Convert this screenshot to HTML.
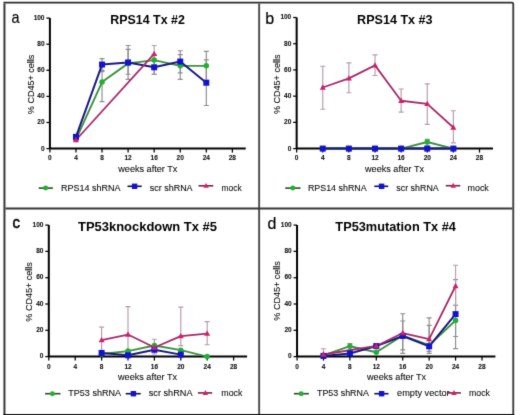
<!DOCTYPE html>
<html><head><meta charset="utf-8"><style>
html,body{margin:0;padding:0;background:#fff;}
svg{display:block;}
#wrap{width:520px;height:415px;}
text{font-family:"Liberation Sans", sans-serif;fill:#000;}
.tk{font-size:6.5px;font-weight:bold;fill:#111;stroke:#111;stroke-width:0.1px;}
.ttl{font-size:12.5px;font-weight:bold;fill:#000;}
.let{font-size:16px;fill:#000;stroke:#000;stroke-width:0.15px;}
.lab{font-size:9px;fill:#0a0a0a;stroke:#0a0a0a;stroke-width:0.08px;}
</style></head><body>
<div id="wrap"><svg width="520" height="415" viewBox="0 0 520 415">
<defs><filter id="bl" x="0" y="0" width="520" height="415" filterUnits="userSpaceOnUse" color-interpolation-filters="sRGB"><feConvolveMatrix order="3" kernelMatrix="0.0113 0.0838 0.0113 0.0838 0.6193 0.0838 0.0113 0.0838 0.0113" divisor="1" edgeMode="duplicate" preserveAlpha="false"/></filter></defs>
<rect width="520" height="415" fill="#fff"/>
<g filter="url(#bl)">
<path d="M3.45,2.55 H511.8 Q513.25,2.55 513.25,4" fill="none" stroke="#2d2d2d" stroke-width="1.7"/>
<line x1="4.45" y1="3.4" x2="4.45" y2="416" stroke="#373737" stroke-width="2"/>
<line x1="513.25" y1="4" x2="513.25" y2="416" stroke="#414141" stroke-width="1.9"/>
<line x1="3.5" y1="414.7" x2="514.2" y2="414.7" stroke="#111" stroke-width="1.6"/>
<line x1="259.15" y1="3.4" x2="259.15" y2="413.9" stroke="#4b4b4b" stroke-width="1.9"/>
<line x1="5.45" y1="208.5" x2="512.3" y2="208.5" stroke="#373737" stroke-width="2.2"/>
<g>
<path d="M49.90,18.10 V148.60 M49.90,148.60 H245.70" stroke="#000" stroke-width="2" fill="none"/>
<line x1="46.40" y1="148.60" x2="49.90" y2="148.60" stroke="#000" stroke-width="1.25"/>
<text x="44.50" y="150.50" text-anchor="end" class="tk">0</text>
<line x1="46.40" y1="122.50" x2="49.90" y2="122.50" stroke="#000" stroke-width="1.25"/>
<text x="44.50" y="124.40" text-anchor="end" class="tk">20</text>
<line x1="46.40" y1="96.40" x2="49.90" y2="96.40" stroke="#000" stroke-width="1.25"/>
<text x="44.50" y="98.30" text-anchor="end" class="tk">40</text>
<line x1="46.40" y1="70.30" x2="49.90" y2="70.30" stroke="#000" stroke-width="1.25"/>
<text x="44.50" y="72.20" text-anchor="end" class="tk">60</text>
<line x1="46.40" y1="44.20" x2="49.90" y2="44.20" stroke="#000" stroke-width="1.25"/>
<text x="44.50" y="46.10" text-anchor="end" class="tk">80</text>
<line x1="46.40" y1="18.10" x2="49.90" y2="18.10" stroke="#000" stroke-width="1.25"/>
<text x="44.50" y="20.00" text-anchor="end" class="tk">100</text>
<line x1="49.90" y1="148.60" x2="49.90" y2="152.60" stroke="#000" stroke-width="1.25"/>
<text x="49.90" y="159.60" text-anchor="middle" class="tk">0</text>
<line x1="75.97" y1="148.60" x2="75.97" y2="152.60" stroke="#000" stroke-width="1.25"/>
<text x="75.97" y="159.60" text-anchor="middle" class="tk">4</text>
<line x1="102.04" y1="148.60" x2="102.04" y2="152.60" stroke="#000" stroke-width="1.25"/>
<text x="102.04" y="159.60" text-anchor="middle" class="tk">8</text>
<line x1="128.10" y1="148.60" x2="128.10" y2="152.60" stroke="#000" stroke-width="1.25"/>
<text x="128.10" y="159.60" text-anchor="middle" class="tk">12</text>
<line x1="154.17" y1="148.60" x2="154.17" y2="152.60" stroke="#000" stroke-width="1.25"/>
<text x="154.17" y="159.60" text-anchor="middle" class="tk">16</text>
<line x1="180.24" y1="148.60" x2="180.24" y2="152.60" stroke="#000" stroke-width="1.25"/>
<text x="180.24" y="159.60" text-anchor="middle" class="tk">20</text>
<line x1="206.31" y1="148.60" x2="206.31" y2="152.60" stroke="#000" stroke-width="1.25"/>
<text x="206.31" y="159.60" text-anchor="middle" class="tk">24</text>
<line x1="232.38" y1="148.60" x2="232.38" y2="152.60" stroke="#000" stroke-width="1.25"/>
<text x="232.38" y="159.60" text-anchor="middle" class="tk">28</text>
<path d="M102.04,101.62 V71.61 M99.54,101.62 H104.54 M99.54,71.61 H104.54" stroke="#8e8e8e" stroke-width="1.15" fill="none"/>
<path d="M102.04,70.30 V58.55 M99.54,70.30 H104.54 M99.54,58.55 H104.54" stroke="#8e8e8e" stroke-width="1.15" fill="none"/>
<path d="M128.10,79.44 V45.50 M125.60,79.44 H130.60 M125.60,45.50 H130.60" stroke="#8e8e8e" stroke-width="1.15" fill="none"/>
<path d="M128.10,74.22 V49.42 M125.60,74.22 H130.60 M125.60,49.42 H130.60" stroke="#8e8e8e" stroke-width="1.15" fill="none"/>
<path d="M154.17,74.22 V45.50 M151.67,74.22 H156.67 M151.67,45.50 H156.67" stroke="#b49cac" stroke-width="1.15" fill="none"/>
<path d="M154.17,74.22 V54.64 M151.67,74.22 H156.67 M151.67,54.64 H156.67" stroke="#8e8e8e" stroke-width="1.15" fill="none"/>
<path d="M180.24,79.44 V50.72 M177.74,79.44 H182.74 M177.74,50.72 H182.74" stroke="#8e8e8e" stroke-width="1.15" fill="none"/>
<path d="M180.24,72.91 V54.64 M177.74,72.91 H182.74 M177.74,54.64 H182.74" stroke="#8e8e8e" stroke-width="1.15" fill="none"/>
<path d="M206.31,105.53 V51.38 M203.81,105.53 H208.81 M203.81,51.38 H208.81" stroke="#8e8e8e" stroke-width="1.15" fill="none"/>
<path d="M206.31,80.74 V59.86 M203.81,80.74 H208.81 M203.81,59.86 H208.81" stroke="#8e8e8e" stroke-width="1.15" fill="none"/>
<path d="M75.97,139.47 L102.04,82.05 L128.10,63.38 L154.17,60.12 L180.24,65.86 L206.31,65.86" stroke="#3c923e" stroke-width="1.9" fill="none" stroke-linejoin="round"/>
<path d="M75.97,136.85 L102.04,64.56 L128.10,62.47 L154.17,67.30 L180.24,61.56 L206.31,82.70" stroke="#1a1a80" stroke-width="2.0" fill="none" stroke-linejoin="round"/>
<path d="M75.97,139.99 L154.17,53.86" stroke="#a82a6a" stroke-width="1.8" fill="none" stroke-linejoin="round"/>
<circle cx="75.97" cy="139.47" r="2.75" fill="#20b030"/>
<circle cx="102.04" cy="82.05" r="2.75" fill="#20b030"/>
<circle cx="128.10" cy="63.38" r="2.75" fill="#20b030"/>
<circle cx="154.17" cy="60.12" r="2.75" fill="#20b030"/>
<circle cx="180.24" cy="65.86" r="2.75" fill="#20b030"/>
<circle cx="206.31" cy="65.86" r="2.75" fill="#20b030"/>
<rect x="72.97" y="133.85" width="6.00" height="6.00" fill="#1212d0"/>
<rect x="99.04" y="61.56" width="6.00" height="6.00" fill="#1212d0"/>
<rect x="125.10" y="59.47" width="6.00" height="6.00" fill="#1212d0"/>
<rect x="151.17" y="64.30" width="6.00" height="6.00" fill="#1212d0"/>
<rect x="177.24" y="58.56" width="6.00" height="6.00" fill="#1212d0"/>
<rect x="203.31" y="79.70" width="6.00" height="6.00" fill="#1212d0"/>
<path d="M75.97,136.79 L78.97,142.19 L72.97,142.19Z" fill="#d0206a"/>
<path d="M154.17,50.66 L157.17,56.06 L151.17,56.06Z" fill="#d0206a"/>
<text x="147.60" y="24.00" text-anchor="middle" class="ttl" textLength="74.5" lengthAdjust="spacingAndGlyphs">RPS14 Tx #2</text>
<text transform="translate(11.6,23.1) scale(0.9,1)" class="let" font-size="16.2">a</text>
<text transform="translate(33.50,84.40) rotate(-90)" text-anchor="middle" class="lab" textLength="59.5" lengthAdjust="spacingAndGlyphs">% CD45+ cells</text>
<text x="147.80" y="172.30" text-anchor="middle" class="lab" textLength="59" lengthAdjust="spacingAndGlyphs">weeks after Tx</text>
<line x1="38.70" y1="188.10" x2="52.90" y2="188.10" stroke="#2a4a2a" stroke-width="1.6"/>
<circle cx="45.70" cy="188.10" r="2.48" fill="#20b030"/>
<text x="61.00" y="190.60" class="lab" textLength="59.6" lengthAdjust="spacingAndGlyphs">RPS14 shRNA</text>
<line x1="127.50" y1="186.30" x2="141.70" y2="186.30" stroke="#101040" stroke-width="1.6"/>
<rect x="131.90" y="183.60" width="5.40" height="5.40" fill="#1212d0"/>
<text x="149.80" y="190.60" class="lab" textLength="42.8" lengthAdjust="spacingAndGlyphs">scr shRNA</text>
<line x1="198.50" y1="185.80" x2="213.30" y2="185.80" stroke="#802048" stroke-width="1.6"/>
<path d="M206.00,182.92 L208.70,187.78 L203.30,187.78Z" fill="#d0206a"/>
<text x="221.50" y="190.60" class="lab" textLength="20.1" lengthAdjust="spacingAndGlyphs">mock</text>
</g>
<g>
<path d="M296.65,17.50 V148.60 M296.65,148.60 H493.00" stroke="#000" stroke-width="2" fill="none"/>
<line x1="293.15" y1="148.60" x2="296.65" y2="148.60" stroke="#000" stroke-width="1.25"/>
<text x="291.25" y="150.50" text-anchor="end" class="tk">0</text>
<line x1="293.15" y1="122.38" x2="296.65" y2="122.38" stroke="#000" stroke-width="1.25"/>
<text x="291.25" y="124.28" text-anchor="end" class="tk">20</text>
<line x1="293.15" y1="96.16" x2="296.65" y2="96.16" stroke="#000" stroke-width="1.25"/>
<text x="291.25" y="98.06" text-anchor="end" class="tk">40</text>
<line x1="293.15" y1="69.94" x2="296.65" y2="69.94" stroke="#000" stroke-width="1.25"/>
<text x="291.25" y="71.84" text-anchor="end" class="tk">60</text>
<line x1="293.15" y1="43.72" x2="296.65" y2="43.72" stroke="#000" stroke-width="1.25"/>
<text x="291.25" y="45.62" text-anchor="end" class="tk">80</text>
<line x1="293.15" y1="17.50" x2="296.65" y2="17.50" stroke="#000" stroke-width="1.25"/>
<text x="291.25" y="19.40" text-anchor="end" class="tk">100</text>
<line x1="296.65" y1="148.60" x2="296.65" y2="152.60" stroke="#000" stroke-width="1.25"/>
<text x="296.65" y="159.60" text-anchor="middle" class="tk">0</text>
<line x1="322.77" y1="148.60" x2="322.77" y2="152.60" stroke="#000" stroke-width="1.25"/>
<text x="322.77" y="159.60" text-anchor="middle" class="tk">4</text>
<line x1="348.89" y1="148.60" x2="348.89" y2="152.60" stroke="#000" stroke-width="1.25"/>
<text x="348.89" y="159.60" text-anchor="middle" class="tk">8</text>
<line x1="375.01" y1="148.60" x2="375.01" y2="152.60" stroke="#000" stroke-width="1.25"/>
<text x="375.01" y="159.60" text-anchor="middle" class="tk">12</text>
<line x1="401.13" y1="148.60" x2="401.13" y2="152.60" stroke="#000" stroke-width="1.25"/>
<text x="401.13" y="159.60" text-anchor="middle" class="tk">16</text>
<line x1="427.25" y1="148.60" x2="427.25" y2="152.60" stroke="#000" stroke-width="1.25"/>
<text x="427.25" y="159.60" text-anchor="middle" class="tk">20</text>
<line x1="453.37" y1="148.60" x2="453.37" y2="152.60" stroke="#000" stroke-width="1.25"/>
<text x="453.37" y="159.60" text-anchor="middle" class="tk">24</text>
<line x1="479.49" y1="148.60" x2="479.49" y2="152.60" stroke="#000" stroke-width="1.25"/>
<text x="479.49" y="159.60" text-anchor="middle" class="tk">28</text>
<path d="M322.77,109.27 V66.27 M320.27,109.27 H325.27 M320.27,66.27 H325.27" stroke="#b49cac" stroke-width="1.15" fill="none"/>
<path d="M348.89,92.75 V62.86 M346.39,92.75 H351.39 M346.39,62.86 H351.39" stroke="#b49cac" stroke-width="1.15" fill="none"/>
<path d="M375.01,75.45 V54.86 M372.51,75.45 H377.51 M372.51,54.86 H377.51" stroke="#b49cac" stroke-width="1.15" fill="none"/>
<path d="M401.13,112.15 V88.95 M398.63,112.15 H403.63 M398.63,88.95 H403.63" stroke="#b49cac" stroke-width="1.15" fill="none"/>
<path d="M427.25,124.35 V83.84 M424.75,124.35 H429.75 M424.75,83.84 H429.75" stroke="#b49cac" stroke-width="1.15" fill="none"/>
<path d="M453.37,142.83 V110.71 M450.87,142.83 H455.87 M450.87,110.71 H455.87" stroke="#b49cac" stroke-width="1.15" fill="none"/>
<path d="M427.25,145.98 V139.42 M424.75,145.98 H429.75 M424.75,139.42 H429.75" stroke="#8e8e8e" stroke-width="1.15" fill="none"/>
<path d="M322.77,148.60 L348.89,148.60 L375.01,148.60 L401.13,148.60 L427.25,142.04 L453.37,148.60" stroke="#3c923e" stroke-width="1.9" fill="none" stroke-linejoin="round"/>
<path d="M322.77,148.60 L348.89,148.60 L375.01,148.60 L401.13,148.60 L427.25,148.60 L453.37,148.60" stroke="#1a1a80" stroke-width="2.0" fill="none" stroke-linejoin="round"/>
<path d="M322.77,87.51 L348.89,78.33 L375.01,65.35 L401.13,100.75 L427.25,103.89 L453.37,127.49" stroke="#a82a6a" stroke-width="1.8" fill="none" stroke-linejoin="round"/>
<circle cx="322.77" cy="148.60" r="2.75" fill="#20b030"/>
<circle cx="348.89" cy="148.60" r="2.75" fill="#20b030"/>
<circle cx="375.01" cy="148.60" r="2.75" fill="#20b030"/>
<circle cx="401.13" cy="148.60" r="2.75" fill="#20b030"/>
<circle cx="427.25" cy="142.04" r="2.75" fill="#20b030"/>
<circle cx="453.37" cy="148.60" r="2.75" fill="#20b030"/>
<rect x="319.77" y="145.60" width="6.00" height="6.00" fill="#1212d0"/>
<rect x="345.89" y="145.60" width="6.00" height="6.00" fill="#1212d0"/>
<rect x="372.01" y="145.60" width="6.00" height="6.00" fill="#1212d0"/>
<rect x="398.13" y="145.60" width="6.00" height="6.00" fill="#1212d0"/>
<rect x="424.25" y="145.60" width="6.00" height="6.00" fill="#1212d0"/>
<rect x="450.37" y="145.60" width="6.00" height="6.00" fill="#1212d0"/>
<path d="M322.77,84.31 L325.77,89.71 L319.77,89.71Z" fill="#d0206a"/>
<path d="M348.89,75.13 L351.89,80.53 L345.89,80.53Z" fill="#d0206a"/>
<path d="M375.01,62.15 L378.01,67.55 L372.01,67.55Z" fill="#d0206a"/>
<path d="M401.13,97.55 L404.13,102.95 L398.13,102.95Z" fill="#d0206a"/>
<path d="M427.25,100.69 L430.25,106.09 L424.25,106.09Z" fill="#d0206a"/>
<path d="M453.37,124.29 L456.37,129.69 L450.37,129.69Z" fill="#d0206a"/>
<text x="394.80" y="24.00" text-anchor="middle" class="ttl" textLength="75.5" lengthAdjust="spacingAndGlyphs">RPS14 Tx #3</text>
<text x="265.3" y="23.6" class="let" font-size="16.5">b</text>
<text transform="translate(280.20,84.30) rotate(-90)" text-anchor="middle" class="lab" textLength="59.5" lengthAdjust="spacingAndGlyphs">% CD45+ cells</text>
<text x="394.50" y="172.30" text-anchor="middle" class="lab" textLength="59" lengthAdjust="spacingAndGlyphs">weeks after Tx</text>
<line x1="285.30" y1="188.10" x2="300.50" y2="188.10" stroke="#2a4a2a" stroke-width="1.6"/>
<circle cx="292.80" cy="188.10" r="2.48" fill="#20b030"/>
<text x="307.90" y="190.60" class="lab" textLength="58.8" lengthAdjust="spacingAndGlyphs">RPS14 shRNA</text>
<line x1="374.30" y1="186.30" x2="388.20" y2="186.30" stroke="#101040" stroke-width="1.6"/>
<rect x="378.90" y="183.60" width="5.40" height="5.40" fill="#1212d0"/>
<text x="396.30" y="190.60" class="lab" textLength="42.5" lengthAdjust="spacingAndGlyphs">scr shRNA</text>
<line x1="445.70" y1="185.70" x2="460.30" y2="185.70" stroke="#802048" stroke-width="1.6"/>
<path d="M453.20,182.82 L455.90,187.68 L450.50,187.68Z" fill="#d0206a"/>
<text x="467.50" y="190.60" class="lab" textLength="21.3" lengthAdjust="spacingAndGlyphs">mock</text>
</g>
<g>
<path d="M48.80,225.10 V356.60 M48.80,356.60 H247.10" stroke="#000" stroke-width="2" fill="none"/>
<line x1="45.30" y1="356.60" x2="48.80" y2="356.60" stroke="#000" stroke-width="1.25"/>
<text x="43.40" y="358.20" text-anchor="end" class="tk">0</text>
<line x1="45.30" y1="330.30" x2="48.80" y2="330.30" stroke="#000" stroke-width="1.25"/>
<text x="43.40" y="331.90" text-anchor="end" class="tk">20</text>
<line x1="45.30" y1="304.00" x2="48.80" y2="304.00" stroke="#000" stroke-width="1.25"/>
<text x="43.40" y="305.60" text-anchor="end" class="tk">40</text>
<line x1="45.30" y1="277.70" x2="48.80" y2="277.70" stroke="#000" stroke-width="1.25"/>
<text x="43.40" y="279.30" text-anchor="end" class="tk">60</text>
<line x1="45.30" y1="251.40" x2="48.80" y2="251.40" stroke="#000" stroke-width="1.25"/>
<text x="43.40" y="253.00" text-anchor="end" class="tk">80</text>
<line x1="45.30" y1="225.10" x2="48.80" y2="225.10" stroke="#000" stroke-width="1.25"/>
<text x="43.40" y="226.70" text-anchor="end" class="tk">100</text>
<line x1="48.80" y1="356.60" x2="48.80" y2="360.60" stroke="#000" stroke-width="1.25"/>
<text x="48.80" y="368.50" text-anchor="middle" class="tk">0</text>
<line x1="75.20" y1="356.60" x2="75.20" y2="360.60" stroke="#000" stroke-width="1.25"/>
<text x="75.20" y="368.50" text-anchor="middle" class="tk">4</text>
<line x1="101.60" y1="356.60" x2="101.60" y2="360.60" stroke="#000" stroke-width="1.25"/>
<text x="101.60" y="368.50" text-anchor="middle" class="tk">8</text>
<line x1="128.00" y1="356.60" x2="128.00" y2="360.60" stroke="#000" stroke-width="1.25"/>
<text x="128.00" y="368.50" text-anchor="middle" class="tk">12</text>
<line x1="154.40" y1="356.60" x2="154.40" y2="360.60" stroke="#000" stroke-width="1.25"/>
<text x="154.40" y="368.50" text-anchor="middle" class="tk">16</text>
<line x1="180.80" y1="356.60" x2="180.80" y2="360.60" stroke="#000" stroke-width="1.25"/>
<text x="180.80" y="368.50" text-anchor="middle" class="tk">20</text>
<line x1="207.20" y1="356.60" x2="207.20" y2="360.60" stroke="#000" stroke-width="1.25"/>
<text x="207.20" y="368.50" text-anchor="middle" class="tk">24</text>
<line x1="233.60" y1="356.60" x2="233.60" y2="360.60" stroke="#000" stroke-width="1.25"/>
<text x="233.60" y="368.50" text-anchor="middle" class="tk">28</text>
<path d="M101.60,352.66 V327.14 M99.10,352.66 H104.10 M99.10,327.14 H104.10" stroke="#b49cac" stroke-width="1.15" fill="none"/>
<path d="M128.00,356.60 V306.63 M125.50,356.60 H130.50 M125.50,306.63 H130.50" stroke="#b49cac" stroke-width="1.15" fill="none"/>
<path d="M154.40,353.97 V339.24 M151.90,353.97 H156.90 M151.90,339.24 H156.90" stroke="#b49cac" stroke-width="1.15" fill="none"/>
<path d="M180.80,345.55 V307.16 M178.30,345.55 H183.30 M178.30,307.16 H183.30" stroke="#b49cac" stroke-width="1.15" fill="none"/>
<path d="M207.20,344.77 V321.62 M204.70,344.77 H209.70 M204.70,321.62 H209.70" stroke="#b49cac" stroke-width="1.15" fill="none"/>
<path d="M101.60,353.97 L128.00,351.08 L154.40,345.55 L180.80,350.16 L207.20,356.60" stroke="#3c923e" stroke-width="1.9" fill="none" stroke-linejoin="round"/>
<path d="M101.60,352.92 L128.00,355.29 L154.40,349.76 L180.80,354.63" stroke="#1a1a80" stroke-width="2.0" fill="none" stroke-linejoin="round"/>
<path d="M101.60,340.16 L128.00,334.51 L154.40,347.53 L180.80,336.09 L207.20,333.59" stroke="#a82a6a" stroke-width="1.8" fill="none" stroke-linejoin="round"/>
<circle cx="101.60" cy="353.97" r="2.75" fill="#20b030"/>
<circle cx="128.00" cy="351.08" r="2.75" fill="#20b030"/>
<circle cx="154.40" cy="345.55" r="2.75" fill="#20b030"/>
<circle cx="180.80" cy="350.16" r="2.75" fill="#20b030"/>
<circle cx="207.20" cy="356.60" r="2.75" fill="#20b030"/>
<rect x="98.60" y="349.92" width="6.00" height="6.00" fill="#1212d0"/>
<rect x="125.00" y="352.29" width="6.00" height="6.00" fill="#1212d0"/>
<rect x="151.40" y="346.76" width="6.00" height="6.00" fill="#1212d0"/>
<rect x="177.80" y="351.63" width="6.00" height="6.00" fill="#1212d0"/>
<path d="M101.60,336.96 L104.60,342.36 L98.60,342.36Z" fill="#d0206a"/>
<path d="M128.00,331.31 L131.00,336.71 L125.00,336.71Z" fill="#d0206a"/>
<path d="M154.40,344.33 L157.40,349.73 L151.40,349.73Z" fill="#d0206a"/>
<path d="M180.80,332.89 L183.80,338.29 L177.80,338.29Z" fill="#d0206a"/>
<path d="M207.20,330.39 L210.20,335.79 L204.20,335.79Z" fill="#d0206a"/>
<text x="147.50" y="230.90" text-anchor="middle" class="ttl" textLength="139" lengthAdjust="spacingAndGlyphs">TP53knockdown Tx #5</text>
<text transform="translate(12.6,228.4) scale(0.93,1)" class="let" font-size="14" style="stroke-width:0.55px">c</text>
<text transform="translate(32.30,291.90) rotate(-90)" text-anchor="middle" class="lab" textLength="59.5" lengthAdjust="spacingAndGlyphs">% CD45+ cells</text>
<text x="147.50" y="379.80" text-anchor="middle" class="lab" textLength="59" lengthAdjust="spacingAndGlyphs">weeks after Tx</text>
<line x1="45.10" y1="393.70" x2="60.50" y2="393.70" stroke="#2a4a2a" stroke-width="1.6"/>
<circle cx="52.40" cy="393.70" r="2.48" fill="#20b030"/>
<text x="68.30" y="396.30" class="lab" textLength="52.7" lengthAdjust="spacingAndGlyphs">TP53 shRNA</text>
<line x1="125.70" y1="393.70" x2="140.70" y2="393.70" stroke="#101040" stroke-width="1.6"/>
<rect x="130.70" y="391.00" width="5.40" height="5.40" fill="#1212d0"/>
<text x="148.80" y="396.30" class="lab" textLength="43.7" lengthAdjust="spacingAndGlyphs">scr shRNA</text>
<line x1="197.90" y1="392.90" x2="212.20" y2="392.90" stroke="#802048" stroke-width="1.6"/>
<path d="M205.40,390.02 L208.10,394.88 L202.70,394.88Z" fill="#d0206a"/>
<text x="221.30" y="396.30" class="lab" textLength="21.2" lengthAdjust="spacingAndGlyphs">mock</text>
</g>
<g>
<path d="M297.05,225.10 V356.60 M297.05,356.60 H495.40" stroke="#000" stroke-width="2" fill="none"/>
<line x1="293.55" y1="356.60" x2="297.05" y2="356.60" stroke="#000" stroke-width="1.25"/>
<text x="291.65" y="358.20" text-anchor="end" class="tk">0</text>
<line x1="293.55" y1="330.30" x2="297.05" y2="330.30" stroke="#000" stroke-width="1.25"/>
<text x="291.65" y="331.90" text-anchor="end" class="tk">20</text>
<line x1="293.55" y1="304.00" x2="297.05" y2="304.00" stroke="#000" stroke-width="1.25"/>
<text x="291.65" y="305.60" text-anchor="end" class="tk">40</text>
<line x1="293.55" y1="277.70" x2="297.05" y2="277.70" stroke="#000" stroke-width="1.25"/>
<text x="291.65" y="279.30" text-anchor="end" class="tk">60</text>
<line x1="293.55" y1="251.40" x2="297.05" y2="251.40" stroke="#000" stroke-width="1.25"/>
<text x="291.65" y="253.00" text-anchor="end" class="tk">80</text>
<line x1="293.55" y1="225.10" x2="297.05" y2="225.10" stroke="#000" stroke-width="1.25"/>
<text x="291.65" y="226.70" text-anchor="end" class="tk">100</text>
<line x1="297.05" y1="356.60" x2="297.05" y2="360.60" stroke="#000" stroke-width="1.25"/>
<text x="297.05" y="368.50" text-anchor="middle" class="tk">0</text>
<line x1="323.47" y1="356.60" x2="323.47" y2="360.60" stroke="#000" stroke-width="1.25"/>
<text x="323.47" y="368.50" text-anchor="middle" class="tk">4</text>
<line x1="349.89" y1="356.60" x2="349.89" y2="360.60" stroke="#000" stroke-width="1.25"/>
<text x="349.89" y="368.50" text-anchor="middle" class="tk">8</text>
<line x1="376.31" y1="356.60" x2="376.31" y2="360.60" stroke="#000" stroke-width="1.25"/>
<text x="376.31" y="368.50" text-anchor="middle" class="tk">12</text>
<line x1="402.73" y1="356.60" x2="402.73" y2="360.60" stroke="#000" stroke-width="1.25"/>
<text x="402.73" y="368.50" text-anchor="middle" class="tk">16</text>
<line x1="429.15" y1="356.60" x2="429.15" y2="360.60" stroke="#000" stroke-width="1.25"/>
<text x="429.15" y="368.50" text-anchor="middle" class="tk">20</text>
<line x1="455.57" y1="356.60" x2="455.57" y2="360.60" stroke="#000" stroke-width="1.25"/>
<text x="455.57" y="368.50" text-anchor="middle" class="tk">24</text>
<line x1="481.99" y1="356.60" x2="481.99" y2="360.60" stroke="#000" stroke-width="1.25"/>
<text x="481.99" y="368.50" text-anchor="middle" class="tk">28</text>
<path d="M323.47,356.60 V348.71 M320.97,356.60 H325.97 M320.97,348.71 H325.97" stroke="#b49cac" stroke-width="1.15" fill="none"/>
<path d="M349.89,350.03 V343.45 M347.39,350.03 H352.39 M347.39,343.45 H352.39" stroke="#8e8e8e" stroke-width="1.15" fill="none"/>
<path d="M402.73,349.89 V313.73 M400.23,349.89 H405.23 M400.23,313.73 H405.23" stroke="#8e8e8e" stroke-width="1.15" fill="none"/>
<path d="M402.73,353.44 V320.96 M400.23,353.44 H405.23 M400.23,320.96 H405.23" stroke="#8e8e8e" stroke-width="1.15" fill="none"/>
<path d="M429.15,353.44 V317.81 M426.65,353.44 H431.65 M426.65,317.81 H431.65" stroke="#8e8e8e" stroke-width="1.15" fill="none"/>
<path d="M429.15,351.34 V325.30 M426.65,351.34 H431.65 M426.65,325.30 H431.65" stroke="#8e8e8e" stroke-width="1.15" fill="none"/>
<path d="M455.57,336.48 V279.67 M453.07,336.48 H458.07 M453.07,279.67 H458.07" stroke="#8e8e8e" stroke-width="1.15" fill="none"/>
<path d="M455.57,348.58 V305.32 M453.07,348.58 H458.07 M453.07,305.32 H458.07" stroke="#8e8e8e" stroke-width="1.15" fill="none"/>
<path d="M455.57,305.32 V265.21 M453.07,305.32 H458.07 M453.07,265.21 H458.07" stroke="#b49cac" stroke-width="1.15" fill="none"/>
<path d="M323.47,355.29 L349.89,346.21 L376.31,352.26 L402.73,335.56 L429.15,345.16 L455.57,320.44" stroke="#3c923e" stroke-width="1.9" fill="none" stroke-linejoin="round"/>
<path d="M323.47,355.94 L349.89,353.44 L376.31,346.08 L402.73,335.95 L429.15,346.34 L455.57,314.13" stroke="#1a1a80" stroke-width="2.0" fill="none" stroke-linejoin="round"/>
<path d="M323.47,354.50 L376.31,345.95 L402.73,333.06 L429.15,339.11 L455.57,285.98" stroke="#a82a6a" stroke-width="1.8" fill="none" stroke-linejoin="round"/>
<circle cx="323.47" cy="355.29" r="2.75" fill="#20b030"/>
<circle cx="349.89" cy="346.21" r="2.75" fill="#20b030"/>
<circle cx="376.31" cy="352.26" r="2.75" fill="#20b030"/>
<circle cx="402.73" cy="335.56" r="2.75" fill="#20b030"/>
<circle cx="429.15" cy="345.16" r="2.75" fill="#20b030"/>
<circle cx="455.57" cy="320.44" r="2.75" fill="#20b030"/>
<rect x="320.47" y="352.94" width="6.00" height="6.00" fill="#1212d0"/>
<rect x="346.89" y="350.44" width="6.00" height="6.00" fill="#1212d0"/>
<rect x="373.31" y="343.08" width="6.00" height="6.00" fill="#1212d0"/>
<rect x="399.73" y="332.95" width="6.00" height="6.00" fill="#1212d0"/>
<rect x="426.15" y="343.34" width="6.00" height="6.00" fill="#1212d0"/>
<rect x="452.57" y="311.13" width="6.00" height="6.00" fill="#1212d0"/>
<path d="M323.47,351.30 L326.47,356.70 L320.47,356.70Z" fill="#d0206a"/>
<path d="M376.31,342.75 L379.31,348.15 L373.31,348.15Z" fill="#d0206a"/>
<path d="M402.73,329.86 L405.73,335.26 L399.73,335.26Z" fill="#d0206a"/>
<path d="M429.15,335.91 L432.15,341.31 L426.15,341.31Z" fill="#d0206a"/>
<path d="M455.57,282.78 L458.57,288.18 L452.57,288.18Z" fill="#d0206a"/>
<text x="395.60" y="230.60" text-anchor="middle" class="ttl" textLength="120.5" lengthAdjust="spacingAndGlyphs">TP53mutation Tx #4</text>
<text x="267.6" y="228.8" class="let" font-size="16">d</text>
<text transform="translate(280.20,290.90) rotate(-90)" text-anchor="middle" class="lab" textLength="59.5" lengthAdjust="spacingAndGlyphs">% CD45+ cells</text>
<text x="396.50" y="379.80" text-anchor="middle" class="lab" textLength="59" lengthAdjust="spacingAndGlyphs">weeks after Tx</text>
<line x1="293.90" y1="393.70" x2="308.90" y2="393.70" stroke="#2a4a2a" stroke-width="1.6"/>
<circle cx="301.20" cy="393.70" r="2.48" fill="#20b030"/>
<text x="317.00" y="396.30" class="lab" textLength="51.9" lengthAdjust="spacingAndGlyphs">TP53 shRNA</text>
<line x1="374.30" y1="393.70" x2="388.50" y2="393.70" stroke="#101040" stroke-width="1.6"/>
<rect x="378.90" y="391.00" width="5.40" height="5.40" fill="#1212d0"/>
<text x="397.10" y="396.30" class="lab" textLength="52.5" lengthAdjust="spacingAndGlyphs">empty vector</text>
<line x1="447.00" y1="392.90" x2="460.90" y2="392.90" stroke="#802048" stroke-width="1.6"/>
<path d="M454.00,390.02 L456.70,394.88 L451.30,394.88Z" fill="#d0206a"/>
<text x="469.00" y="396.30" class="lab" textLength="21" lengthAdjust="spacingAndGlyphs">mock</text>
</g>
</g>
</svg></div>
</body></html>
